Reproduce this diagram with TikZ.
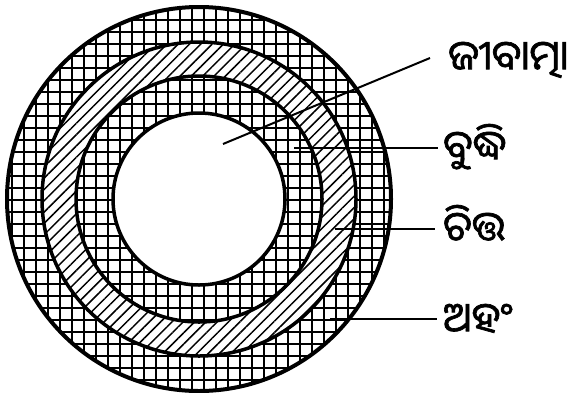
\documentclass[tikz,border=0pt]{standalone}
\usepackage{fontspec}
\newfontfamily\odia[Script=Oriya,FakeBold=1.6]{Noto Sans Oriya UI}
\usetikzlibrary{patterns.meta}
\tikzset{
  ringline/.style={line width=3.5pt},
  leader/.style={line width=2pt},
  gridfill/.style={pattern={Hatch[distance=12pt,line width=1.5pt]}},
  hatchfill/.style={pattern={Lines[angle=45,distance=8pt,line width=1.5pt]}},
  lbl/.style={anchor=base west,inner sep=0pt,font=\odia\fontsize{41}{47}\selectfont}
}
\begin{document}
\begin{tikzpicture}[x=1pt,y=-1pt]
\useasboundingbox (0,0) rectangle (569,392);
\coordinate (c) at (199,199);
% outer grid disc
\fill[white] (c) circle (192);
\fill[gridfill] (c) circle (192);
% hatched ring
\fill[white] (c) circle (157);
\fill[hatchfill] (c) circle (157);
% inner grid ring
\fill[white] (c) circle (123);
\fill[gridfill] (c) circle (123);
% inner white disc
\fill[white] (c) circle (86);
\draw[line width=4pt] (c) circle (192);
\draw[ringline] (c) circle (157);
\draw[ringline] (c) circle (123);
\draw[ringline] (c) circle (86);
% labels
\node[lbl] (l1) at (448,73) {ଜୀବାତ୍ମା};
\node[lbl] (l2) at (443,163) {ବୁଦ୍ଧି};
\node[lbl] (l3) at (443,244) {ଚିତ୍ତ};
\node[lbl] (l4) at (443,335) {ଅହଂ};
% leader ends
\coordinate (s1) at (223,144);
\coordinate (e1) at (430,58);
\coordinate (s2) at (294,148);
\coordinate (e2) at (438,148);
\coordinate (s3) at (335,229);
\coordinate (e3) at (435,229);
\coordinate (s4) at (330,319);
\coordinate (e4) at (437,319);
\draw[leader] (s1) -- (e1);
\draw[leader] (s2) -- (e2);
\draw[leader] (s3) -- (e3);
\draw[leader] (s4) -- (e4);
\end{tikzpicture}
\end{document}
